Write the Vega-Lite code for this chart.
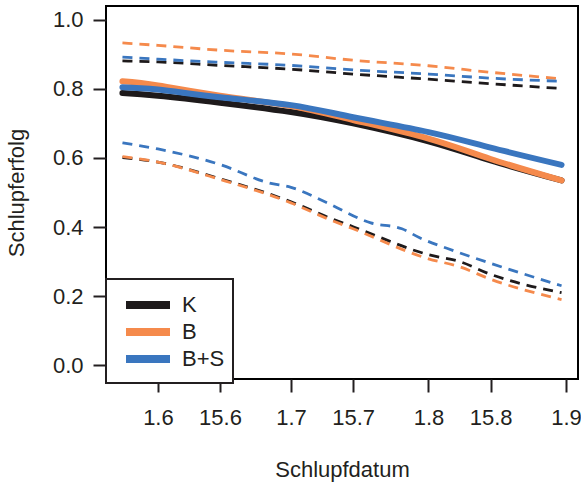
{
  "$schema": "https://vega.github.io/schema/vega-lite/v6.json",
  "width": 472,
  "height": 373,
  "autosize": {"type": "none"},
  "padding": {"left": 106, "top": 6, "right": 3, "bottom": 103},
  "background": "white",
  "config": {
    "font": "Liberation Sans",
    "view": {"stroke": "black", "strokeWidth": 2},
    "axis": {"labelFont": "Liberation Sans", "titleFont": "Liberation Sans", "labelFontSize": 22, "titleFontSize": 22, "titleFontWeight": "normal", "labelColor": "#231f20", "titleColor": "#231f20", "tickColor": "#231f20", "tickWidth": 2, "tickSize": 13, "domain": false, "grid": false},
    "legend": {"labelFont": "Liberation Sans", "labelFontSize": 22, "labelColor": "#231f20", "strokeWidth": 2}
  },
  "data": {"values": [
    {"d":"2021-05-24T00:00","g":"K","k":"mid","v":0.788},
    {"d":"2021-06-01T00:00","g":"K","k":"mid","v":0.780},
    {"d":"2021-06-15T00:00","g":"K","k":"mid","v":0.760},
    {"d":"2021-07-01T00:00","g":"K","k":"mid","v":0.733},
    {"d":"2021-07-15T00:00","g":"K","k":"mid","v":0.700},
    {"d":"2021-08-01T00:00","g":"K","k":"mid","v":0.648},
    {"d":"2021-08-15T00:00","g":"K","k":"mid","v":0.593},
    {"d":"2021-08-31T00:00","g":"K","k":"mid","v":0.535},
    {"d":"2021-05-24T00:00","g":"K","k":"hi","v":0.881},
    {"d":"2021-06-01T00:00","g":"K","k":"hi","v":0.878},
    {"d":"2021-06-15T00:00","g":"K","k":"hi","v":0.868},
    {"d":"2021-07-01T00:00","g":"K","k":"hi","v":0.857},
    {"d":"2021-07-15T00:00","g":"K","k":"hi","v":0.843},
    {"d":"2021-08-01T00:00","g":"K","k":"hi","v":0.828},
    {"d":"2021-08-15T00:00","g":"K","k":"hi","v":0.815},
    {"d":"2021-08-31T00:00","g":"K","k":"hi","v":0.801},
    {"d":"2021-05-24T00:00","g":"K","k":"lo","v":0.601},
    {"d":"2021-06-01T00:00","g":"K","k":"lo","v":0.588},
    {"d":"2021-06-15T00:00","g":"K","k":"lo","v":0.540},
    {"d":"2021-07-01T00:00","g":"K","k":"lo","v":0.473},
    {"d":"2021-07-10T00:00","g":"K","k":"lo","v":0.425},
    {"d":"2021-07-15T00:00","g":"K","k":"lo","v":0.401},
    {"d":"2021-08-01T00:00","g":"K","k":"lo","v":0.320},
    {"d":"2021-08-08T00:00","g":"K","k":"lo","v":0.300},
    {"d":"2021-08-15T00:00","g":"K","k":"lo","v":0.263},
    {"d":"2021-08-31T00:00","g":"K","k":"lo","v":0.210},
    {"d":"2021-05-24T00:00","g":"B","k":"mid","v":0.822},
    {"d":"2021-06-01T00:00","g":"B","k":"mid","v":0.810},
    {"d":"2021-06-15T00:00","g":"B","k":"mid","v":0.780},
    {"d":"2021-07-01T00:00","g":"B","k":"mid","v":0.750},
    {"d":"2021-07-15T00:00","g":"B","k":"mid","v":0.710},
    {"d":"2021-08-01T00:00","g":"B","k":"mid","v":0.656},
    {"d":"2021-08-15T00:00","g":"B","k":"mid","v":0.597},
    {"d":"2021-08-31T00:00","g":"B","k":"mid","v":0.535},
    {"d":"2021-05-24T00:00","g":"B","k":"hi","v":0.933},
    {"d":"2021-06-01T00:00","g":"B","k":"hi","v":0.926},
    {"d":"2021-06-15T00:00","g":"B","k":"hi","v":0.912},
    {"d":"2021-07-01T00:00","g":"B","k":"hi","v":0.901},
    {"d":"2021-07-15T00:00","g":"B","k":"hi","v":0.883},
    {"d":"2021-08-01T00:00","g":"B","k":"hi","v":0.867},
    {"d":"2021-08-15T00:00","g":"B","k":"hi","v":0.848},
    {"d":"2021-08-31T00:00","g":"B","k":"hi","v":0.829},
    {"d":"2021-05-24T00:00","g":"B","k":"lo","v":0.604},
    {"d":"2021-06-01T00:00","g":"B","k":"lo","v":0.588},
    {"d":"2021-06-15T00:00","g":"B","k":"lo","v":0.538},
    {"d":"2021-07-01T00:00","g":"B","k":"lo","v":0.470},
    {"d":"2021-07-10T00:00","g":"B","k":"lo","v":0.420},
    {"d":"2021-07-15T00:00","g":"B","k":"lo","v":0.395},
    {"d":"2021-08-01T00:00","g":"B","k":"lo","v":0.308},
    {"d":"2021-08-08T00:00","g":"B","k":"lo","v":0.285},
    {"d":"2021-08-15T00:00","g":"B","k":"lo","v":0.249},
    {"d":"2021-08-31T00:00","g":"B","k":"lo","v":0.190},
    {"d":"2021-05-24T00:00","g":"B+S","k":"mid","v":0.805},
    {"d":"2021-06-01T00:00","g":"B+S","k":"mid","v":0.798},
    {"d":"2021-06-15T00:00","g":"B+S","k":"mid","v":0.776},
    {"d":"2021-07-01T00:00","g":"B+S","k":"mid","v":0.753},
    {"d":"2021-07-15T00:00","g":"B+S","k":"mid","v":0.718},
    {"d":"2021-08-01T00:00","g":"B+S","k":"mid","v":0.675},
    {"d":"2021-08-15T00:00","g":"B+S","k":"mid","v":0.630},
    {"d":"2021-08-31T00:00","g":"B+S","k":"mid","v":0.580},
    {"d":"2021-05-24T00:00","g":"B+S","k":"hi","v":0.892},
    {"d":"2021-06-01T00:00","g":"B+S","k":"hi","v":0.886},
    {"d":"2021-06-15T00:00","g":"B+S","k":"hi","v":0.877},
    {"d":"2021-07-01T00:00","g":"B+S","k":"hi","v":0.868},
    {"d":"2021-07-15T00:00","g":"B+S","k":"hi","v":0.855},
    {"d":"2021-08-01T00:00","g":"B+S","k":"hi","v":0.843},
    {"d":"2021-08-15T00:00","g":"B+S","k":"hi","v":0.831},
    {"d":"2021-08-31T00:00","g":"B+S","k":"hi","v":0.822},
    {"d":"2021-05-24T00:00","g":"B+S","k":"lo","v":0.644},
    {"d":"2021-06-01T00:00","g":"B+S","k":"lo","v":0.626},
    {"d":"2021-06-15T00:00","g":"B+S","k":"lo","v":0.581},
    {"d":"2021-06-26T00:00","g":"B+S","k":"lo","v":0.528},
    {"d":"2021-07-01T00:00","g":"B+S","k":"lo","v":0.515},
    {"d":"2021-07-09T00:00","g":"B+S","k":"lo","v":0.471},
    {"d":"2021-07-19T00:00","g":"B+S","k":"lo","v":0.412},
    {"d":"2021-07-26T00:00","g":"B+S","k":"lo","v":0.395},
    {"d":"2021-07-30T00:00","g":"B+S","k":"lo","v":0.369},
    {"d":"2021-08-07T00:00","g":"B+S","k":"lo","v":0.330},
    {"d":"2021-08-15T00:00","g":"B+S","k":"lo","v":0.295},
    {"d":"2021-08-31T00:00","g":"B+S","k":"lo","v":0.230}
  ]},
  "encoding": {
    "x": {
      "field": "d", "type": "temporal", "title": "Schlupfdatum",
      "scale": {"domain": [{"year": 2021, "month": 5, "date": 20, "hours": 7}, {"year": 2021, "month": 9, "date": 3, "hours": 17}], "nice": false},
      "axis": {
        "values": [
          {"year": 2021, "month": 6, "date": 1},
          {"year": 2021, "month": 6, "date": 15},
          {"year": 2021, "month": 7, "date": 1},
          {"year": 2021, "month": 7, "date": 15},
          {"year": 2021, "month": 8, "date": 1},
          {"year": 2021, "month": 8, "date": 15},
          {"year": 2021, "month": 9, "date": 1}
        ],
        "format": "%-d.%-m", "labelPadding": 15, "titlePadding": 31, "labelFlush": false, "labelOverlap": false
      }
    },
    "y": {
      "field": "v", "type": "quantitative", "title": "Schlupferfolg",
      "scale": {"domain": [-0.04, 1.04], "nice": false, "zero": false},
      "axis": {"values": [0, 0.2, 0.4, 0.6, 0.8, 1.0], "format": ".1f", "labelPadding": 10, "titlePadding": 24, "labelFlush": false}
    }
  },
  "layer": [
    {
      "transform": [{"filter": "datum.k === 'mid'"}],
      "mark": {"type": "line", "strokeWidth": 6, "strokeCap": "round", "interpolate": "natural"},
      "encoding": {
        "color": {
          "field": "g", "type": "nominal",
          "scale": {"domain": ["K", "B", "B+S"], "range": ["#1e1a1b", "#f58a4c", "#3a76bf"]},
          "sort": ["K", "B", "B+S"],
          "legend": {
            "title": " ", "titleFontSize": 4, "titlePadding": 3, "orient": "none", "legendX": 0, "legendY": 273, "direction": "vertical",
            "strokeColor": "#231f20", "fillColor": "white", "cornerRadius": 0,
            "padding": 8, "symbolType": "M-4.4,0H4.4", "symbolSize": 100, "symbolStrokeWidth": 8,
            "symbolOffset": 23, "labelOffset": 23, "rowPadding": -14
          }
        }
      }
    },
    {
      "transform": [{"filter": "datum.k !== 'mid'"}],
      "mark": {"type": "line", "strokeWidth": 2.8, "strokeDash": [10, 7], "interpolate": "monotone"},
      "encoding": {
        "color": {
          "field": "g", "type": "nominal",
          "scale": {"domain": ["K", "B", "B+S"], "range": ["#1e1a1b", "#f58a4c", "#3a76bf"]},
          "sort": ["K", "B", "B+S"],
          "legend": null
        },
        "detail": {"field": "k"}
      }
    }
  ],
  "resolve": {"scale": {"color": "independent"}}
}
